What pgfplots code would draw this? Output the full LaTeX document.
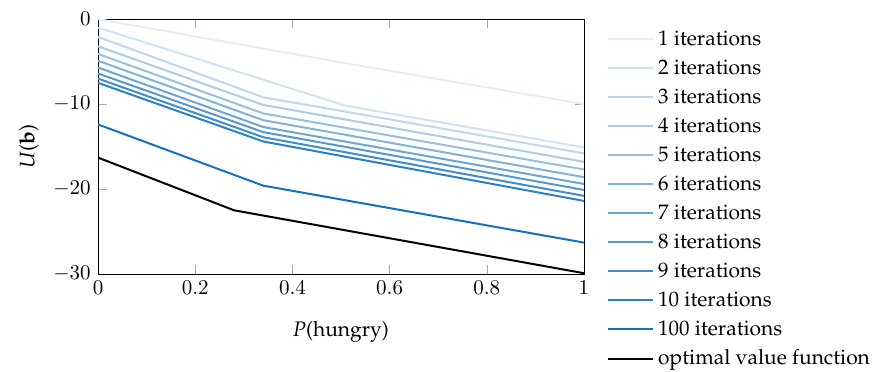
\documentclass[border=0pt]{standalone}
\usepackage[T1]{fontenc}
\renewcommand{\rmdefault}{ppl}
\usepackage{pgfplots}
\pgfplotsset{compat=1.18}
\definecolor{base}{RGB}{20,114,189}
\begin{document}
\begin{tikzpicture}
\begin{axis}[
  width=231.4pt, height=121.4pt, scale only axis,
  xmin=0, xmax=1, ymin=-30, ymax=0,
  xtick={0,0.2,0.4,0.6,0.8,1},
  ytick={0,-10,-20,-30},
  tick style={gray!70},
  tick align=inside,
  xlabel={\textit{P}(hungry)},
  xlabel style={yshift=-5.5pt},
  ylabel={\textit{U}(\textbf{b})},
  legend cell align=left,
  legend style={draw=none, fill=none, at={(1.034,0.99)}, anchor=north west, font=\rmfamily, row sep=1.38pt},
  legend image code/.code={\draw[#1] (0cm,0cm) -- (0.75cm,0cm);},
  every axis plot/.append style={line width=0.95pt},
]
\coordinate (sw) at (rel axis cs:0,0);
\addplot[color=base!12!white] coordinates {(0,0) (0.5,-5.1) (1,-10.0)};
\addlegendentry{1 iterations}
\addplot[color=base!20!white] coordinates {(0,-1.0) (0.51,-10.2) (1,-15.1)};
\addlegendentry{2 iterations}
\addplot[color=base!28!white] coordinates {(0,-2.1) (0.34,-9.2) (1,-15.8)};
\addlegendentry{3 iterations}
\addplot[color=base!36!white] coordinates {(0,-3.2) (0.34,-10.1) (1,-16.8)};
\addlegendentry{4 iterations}
\addplot[color=base!45!white] coordinates {(0,-4.1) (0.34,-11.1) (1,-17.7)};
\addlegendentry{5 iterations}
\addplot[color=base!54!white] coordinates {(0,-4.9) (0.34,-11.9) (1,-18.6)};
\addlegendentry{6 iterations}
\addplot[color=base!63!white] coordinates {(0,-5.7) (0.34,-12.7) (1,-19.4)};
\addlegendentry{7 iterations}
\addplot[color=base!72!white] coordinates {(0,-6.4) (0.34,-13.3) (1,-20.1)};
\addlegendentry{8 iterations}
\addplot[color=base!81!white] coordinates {(0,-7.0) (0.34,-13.9) (1,-20.8)};
\addlegendentry{9 iterations}
\addplot[color=base!90!white] coordinates {(0,-7.5) (0.34,-14.4) (1,-21.4)};
\addlegendentry{10 iterations}
\addplot[color=base] coordinates {(0,-12.4) (0.34,-19.6) (1,-26.3)};
\addlegendentry{100 iterations}
\addplot[color=black] coordinates {(0,-16.3) (0.28,-22.5) (1,-29.9)};
\addlegendentry{optimal value function}
\end{axis}
\pgfresetboundingbox
\path[use as bounding box] ([xshift=-46.7pt,yshift=-46.2pt]sw) rectangle ++(416.2pt,176.7pt);
\end{tikzpicture}
\end{document}
